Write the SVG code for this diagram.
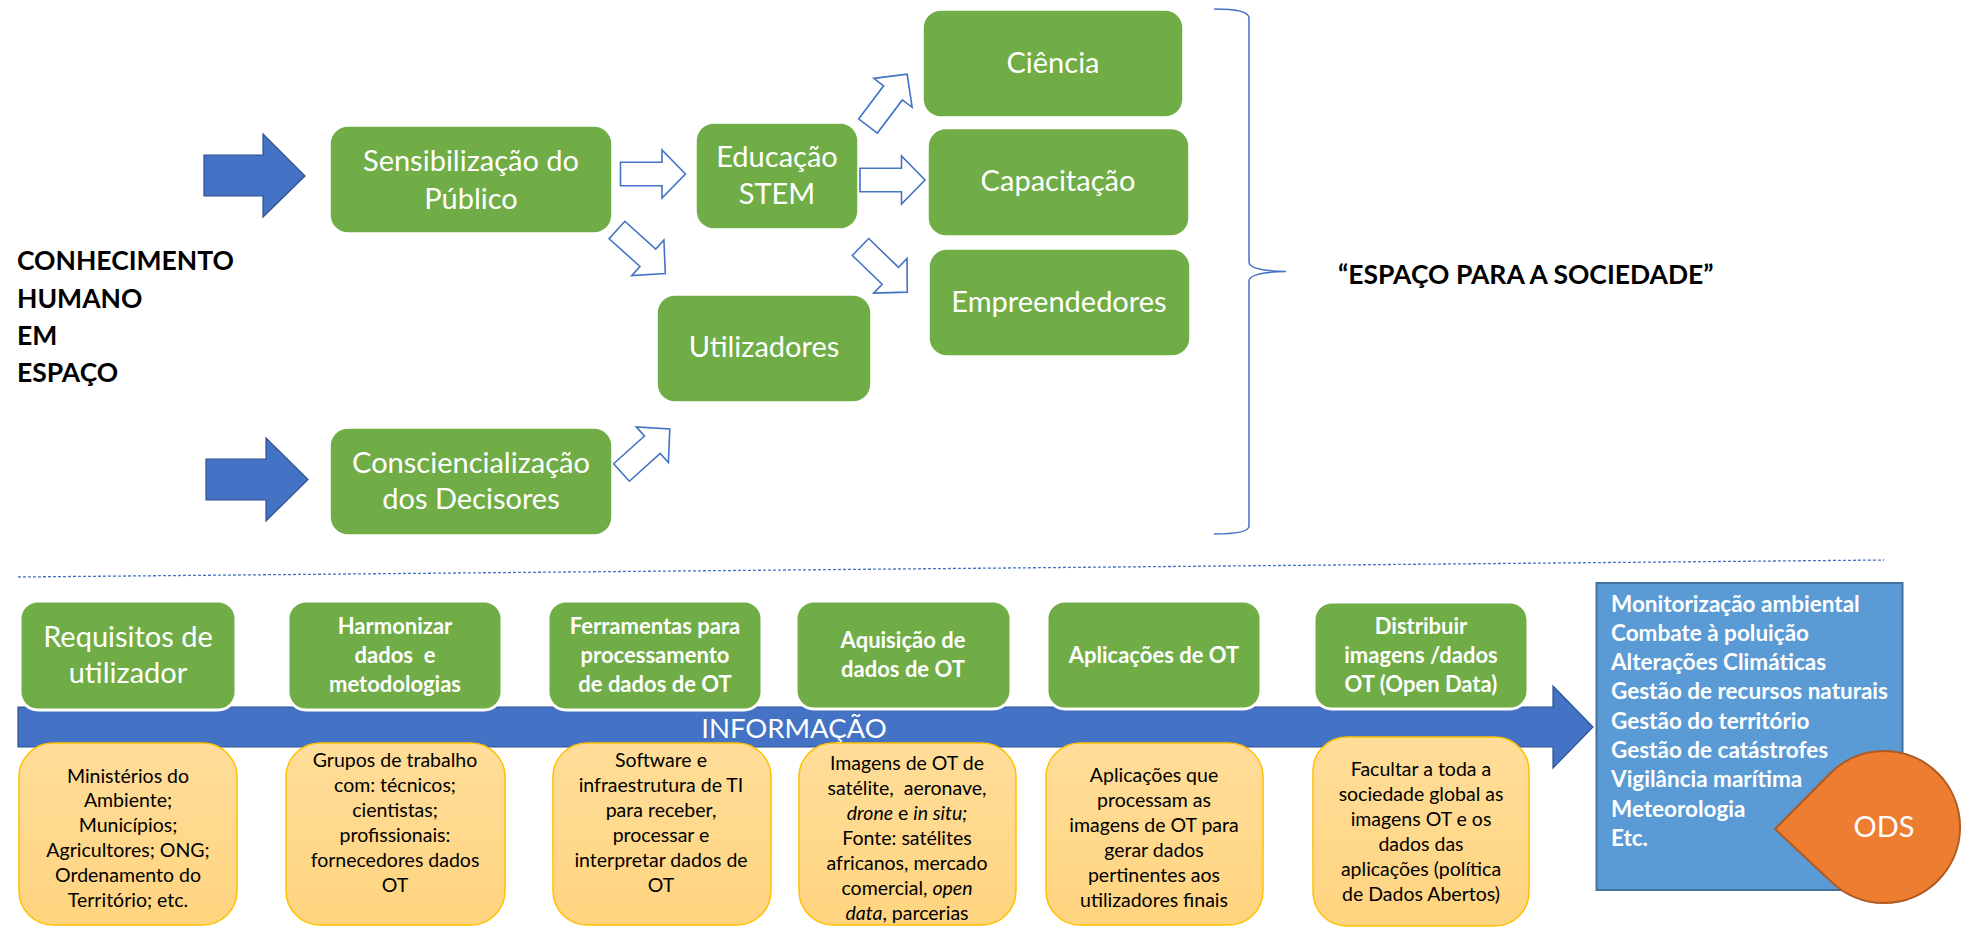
<svg xmlns="http://www.w3.org/2000/svg" width="1966" height="931" viewBox="0 0 1966 931">
<defs>
<style>
.g{fill:#70AD47;stroke:#ffffff;stroke-width:1.5}
.gb{fill:#70AD47;stroke:#ffffff;stroke-width:3}
.y{fill:url(#yg);stroke:#FFC000;stroke-width:1.5}
.ho{fill:#ffffff;stroke:#4472C4;stroke-width:1.6;stroke-linejoin:miter}
.sa{fill:#4472C4;stroke:#2F528F;stroke-width:1.2}
.tw{font-family:Lato,"Liberation Sans",sans-serif;fill:#ffffff;text-anchor:middle}
.t1{font-size:29px}
.tb{font-size:22px;font-weight:bold}
.ty{font-family:Lato,"Liberation Sans",sans-serif;fill:#000000;text-anchor:middle;font-size:19.5px}
.big{font-family:Lato,"Liberation Sans",sans-serif;font-weight:bold;font-size:26.5px;fill:#000000}
.lst{font-family:Lato,"Liberation Sans",sans-serif;font-weight:bold;font-size:22.5px;fill:#ffffff}
</style>
<linearGradient id="yg" x1="0" y1="0" x2="0" y2="1">
<stop offset="0" stop-color="#FFDD99"/>
<stop offset="1" stop-color="#FFD47F"/>
</linearGradient>
<path id="hollow" d="M0,-11.75 H41.5 V-24 L65,0 L41.5,24 V11.75 H0 Z"/>
</defs>
<rect width="1966" height="931" fill="#ffffff"/>

<g id="titles">
<text class="big" x="17" y="270">CONHECIMENTO</text>
<text class="big" x="17" y="308">HUMANO</text>
<text class="big" x="17" y="345">EM</text>
<text class="big" x="17" y="382">ESPAÇO</text>
<text class="big" x="1338" y="284" font-size="27">“ESPAÇO PARA A SOCIEDADE”</text>
</g>

<g id="connectors">
<polygon class="sa" points="204,155 263,155 263,134 305,176 263,217 263,196 204,196"/>
<polygon class="sa" points="206,459 266,459 266,438 308,479.5 266,521 266,500 206,500"/>
<use href="#hollow" class="ho" transform="translate(620.5,174)"/>
<use href="#hollow" class="ho" transform="translate(860,180)"/>
<use href="#hollow" class="ho" transform="translate(617,230) rotate(42)"/>
<use href="#hollow" class="ho" transform="translate(621.5,472.5) rotate(-42)"/>
<use href="#hollow" class="ho" transform="translate(868,126) rotate(-53)"/>
<use href="#hollow" class="ho" transform="translate(860.5,247) rotate(44)"/>
<path d="M1214,9 C1235,9 1249,11 1249,18 L1249,262 C1249,268 1262,271 1286,271.5 C1262,272 1249,275 1249,281 L1249,526 C1249,532 1235,534 1214,534" fill="none" stroke="#4472C4" stroke-width="1.5"/>
<line x1="18" y1="577" x2="1884" y2="560" stroke="#4472C4" stroke-width="1.3" stroke-dasharray="3 2"/>
<polygon class="sa" points="18,707 1553,707 1553,686 1593,727 1553,768 1553,747 18,747"/>
<text class="tw" x="794" y="738" font-size="27.5" fill="#EEF3FB">INFORMAÇÃO</text>
</g>

<g id="sensibilizacao">
<rect class="g" x="330" y="126" width="282" height="107" rx="18"/>
<text class="tw t1" x="471" y="171">Sensibilização do</text>
<text class="tw t1" x="471" y="209">Público</text>
</g>
<g id="consciencializacao">
<rect class="g" x="330" y="428" width="282" height="107" rx="18"/>
<text class="tw t1" x="471" y="473">Consciencialização</text>
<text class="tw t1" x="471" y="509">dos Decisores</text>
</g>
<g id="educacao">
<rect class="g" x="696" y="123" width="162" height="106" rx="18"/>
<text class="tw t1" x="777" y="167">Educação</text>
<text class="tw t1" x="777" y="204">STEM</text>
</g>
<g id="utilizadores">
<rect class="g" x="657" y="295" width="214" height="107" rx="18"/>
<text class="tw t1" x="764" y="357">Utilizadores</text>
</g>
<g id="ciencia">
<rect class="g" x="923" y="10" width="260" height="107" rx="18"/>
<text class="tw t1" x="1053" y="73">Ciência</text>
</g>
<g id="capacitacao">
<rect class="g" x="928" y="128.5" width="261" height="107.5" rx="18"/>
<text class="tw t1" x="1058" y="191">Capacitação</text>
</g>
<g id="empreendedores">
<rect class="g" x="929" y="249" width="261" height="107" rx="18"/>
<text class="tw t1" x="1059" y="312">Empreendedores</text>
</g>

<g id="requisitos">
<rect class="gb" x="20" y="601" width="216" height="109" rx="18"/>
<text class="tw t1" x="128" y="647">Requisitos de</text>
<text class="tw t1" x="128" y="683">utilizador</text>
</g>
<g id="harmonizar">
<rect class="gb" x="288" y="601" width="214" height="109" rx="18"/>
<text class="tw tb" x="395" y="634">Harmonizar</text>
<text class="tw tb" x="395" y="663" xml:space="preserve">dados  e</text>
<text class="tw tb" x="395" y="692">metodologias</text>
</g>
<g id="ferramentas">
<rect class="gb" x="548" y="601" width="214" height="109" rx="18"/>
<text class="tw tb" x="655" y="634">Ferramentas para</text>
<text class="tw tb" x="655" y="663">processamento</text>
<text class="tw tb" x="655" y="692">de dados de OT</text>
</g>
<g id="aquisicao">
<rect class="gb" x="796" y="601" width="215" height="108" rx="18"/>
<text class="tw tb" x="903" y="648">Aquisição de</text>
<text class="tw tb" x="903" y="677">dados de OT</text>
</g>
<g id="aplicacoes">
<rect class="gb" x="1047" y="601" width="214" height="108" rx="18"/>
<text class="tw tb" x="1154" y="663">Aplicações de OT</text>
</g>
<g id="distribuir">
<rect class="gb" x="1314" y="602" width="214" height="107" rx="18"/>
<text class="tw tb" x="1421" y="634">Distribuir</text>
<text class="tw tb" x="1421" y="663">imagens /dados</text>
<text class="tw tb" x="1421" y="692">OT (Open Data)</text>
</g>

<g id="ministerios">
<rect class="y" x="19" y="743" width="218" height="182" rx="34"/>
<text class="ty" x="128" y="783">Ministérios do</text>
<text class="ty" x="128" y="807">Ambiente;</text>
<text class="ty" x="128" y="832">Municípios;</text>
<text class="ty" x="128" y="857">Agricultores; ONG;</text>
<text class="ty" x="128" y="882">Ordenamento do</text>
<text class="ty" x="128" y="907">Território; etc.</text>
</g>
<g id="grupos">
<rect class="y" x="286" y="743" width="219" height="182" rx="34"/>
<text class="ty" x="395" y="767">Grupos de trabalho</text>
<text class="ty" x="395" y="792">com: técnicos;</text>
<text class="ty" x="395" y="817">cientistas;</text>
<text class="ty" x="395" y="842">profissionais:</text>
<text class="ty" x="395" y="867">fornecedores dados</text>
<text class="ty" x="395" y="892">OT</text>
</g>
<g id="software">
<rect class="y" x="553" y="743" width="218" height="182" rx="34"/>
<text class="ty" x="661" y="767">Software e</text>
<text class="ty" x="661" y="792">infraestrutura de TI</text>
<text class="ty" x="661" y="817">para receber,</text>
<text class="ty" x="661" y="842">processar e</text>
<text class="ty" x="661" y="867">interpretar dados de</text>
<text class="ty" x="661" y="892">OT</text>
</g>
<g id="imagens">
<rect class="y" x="799" y="743" width="217" height="182" rx="34"/>
<text class="ty" x="907" y="770">Imagens de OT de</text>
<text class="ty" x="907" y="795" xml:space="preserve">satélite,  aeronave,</text>
<text class="ty" x="907" y="820"><tspan font-style="italic">drone</tspan> e <tspan font-style="italic">in situ;</tspan></text>
<text class="ty" x="907" y="845">Fonte: satélites</text>
<text class="ty" x="907" y="870">africanos, mercado</text>
<text class="ty" x="907" y="895">comercial, <tspan font-style="italic">open</tspan></text>
<text class="ty" x="907" y="920"><tspan font-style="italic">data</tspan>, parcerias</text>
</g>
<g id="aplicacoes-que">
<rect class="y" x="1046" y="743" width="217" height="182" rx="34"/>
<text class="ty" x="1154" y="782">Aplicações que</text>
<text class="ty" x="1154" y="807">processam as</text>
<text class="ty" x="1154" y="832">imagens de OT para</text>
<text class="ty" x="1154" y="857">gerar dados</text>
<text class="ty" x="1154" y="882">pertinentes aos</text>
<text class="ty" x="1154" y="907">utilizadores finais</text>
</g>
<g id="facultar">
<rect class="y" x="1313" y="737" width="216" height="189" rx="34"/>
<text class="ty" x="1421" y="776">Facultar a toda a</text>
<text class="ty" x="1421" y="801">sociedade global as</text>
<text class="ty" x="1421" y="826">imagens OT e os</text>
<text class="ty" x="1421" y="851">dados das</text>
<text class="ty" x="1421" y="876">aplicações (política</text>
<text class="ty" x="1421" y="901">de Dados Abertos)</text>
</g>

<g id="dominios">
<rect x="1596.5" y="583" width="306" height="307" fill="#5B9BD5" stroke="#41719C" stroke-width="2"/>
<text class="lst" x="1611" y="612">Monitorização ambiental</text>
<text class="lst" x="1611" y="641">Combate à poluição</text>
<text class="lst" x="1611" y="670">Alterações Climáticas</text>
<text class="lst" x="1611" y="699">Gestão de recursos naturais</text>
<text class="lst" x="1611" y="729">Gestão do território</text>
<text class="lst" x="1611" y="758">Gestão de catástrofes</text>
<text class="lst" x="1611" y="787">Vigilância marítima</text>
<text class="lst" x="1611" y="817">Meteorologia</text>
<text class="lst" x="1611" y="846">Etc.</text>
</g>
<g id="ods">
<path d="M1775,829 L1830.3,773.3 A76,76 0 1 1 1830.3,880.7 Z" fill="#ED7D31" stroke="#AE5A21" stroke-width="2"/>
<text class="tw" x="1884" y="837" font-size="29" fill="#FBE5D6">ODS</text>
</g>
</svg>
